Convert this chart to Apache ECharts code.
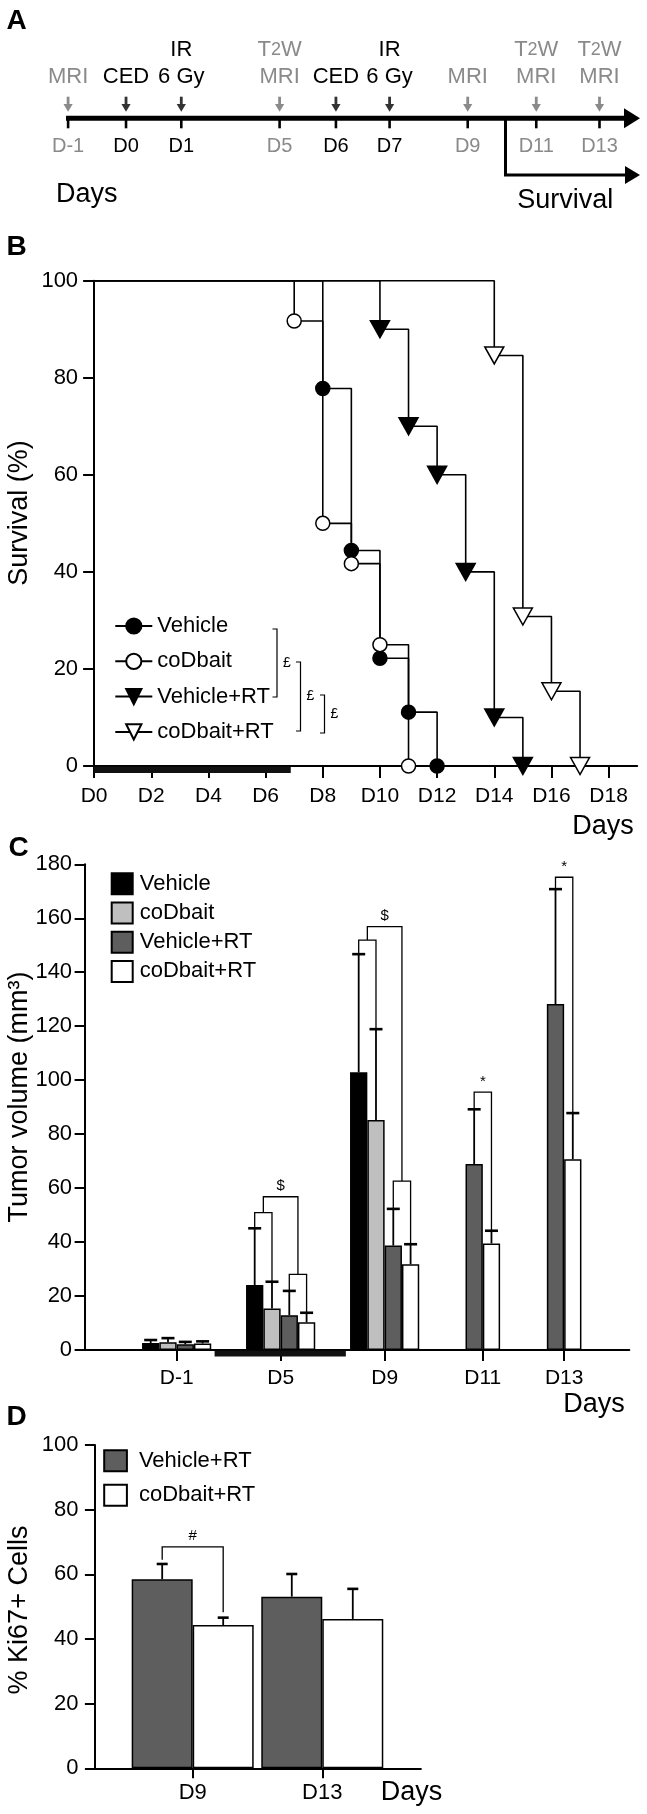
<!DOCTYPE html>
<html><head><meta charset="utf-8">
<script src="https://cdn.jsdelivr.net/npm/echarts@6/dist/echarts.min.js"></script>
<style>html,body{margin:0;padding:0;background:#fff}#c{width:647px;height:1814px}</style>
</head><body><div id="c"></div>
<script>
// ================= DATA =================
// Panel A: treatment schedule
const timelineDays = ['D-1', 'D0', 'D1', 'D5', 'D6', 'D7', 'D9', 'D11', 'D13'];
const timelineTop = ['', '', 'IR', 'T2W', '', 'IR', '', 'T2W', 'T2W'];
const timelineMid = ['MRI', 'CED', '6 Gy', 'MRI', 'CED', '6 Gy', 'MRI', 'MRI', 'MRI'];
const timelineImaging = [true, false, false, true, false, false, true, true, true];

// Panel B: Kaplan-Meier survival (%)
const survVehicleDays = [0, 8, 9, 10, 11, 12];
const survVehicle = [100, 77.8, 44.4, 22.2, 11.1, 0];
const survCoDbaitDays = [0, 7, 8, 9, 10, 11];
const survCoDbait = [100, 91.7, 50, 41.7, 25, 0];
const survVehicleRTDays = [0, 10, 11, 12, 13, 14, 15];
const survVehicleRT = [100, 90, 70, 60, 40, 10, 0];
const survCoDbaitRTDays = [0, 14, 15, 16, 17];
const survCoDbaitRT = [100, 84.6, 30.8, 15.4, 0];
const survivalTickDays = [0, 2, 4, 6, 8, 10, 12, 14, 16, 18];

// Panel C: tumor volume (mm3), mean and SD
const tumorCategories = ['D-1', 'D5', 'D9', 'D11', 'D13'];
const tumorVehicle = [2.6, 24.1, 102.9, null, null];
const tumorVehicleSD = [1.1, 21.0, 43.8, null, null];
const tumorCoDbait = [2.9, 15.4, 85.2, null, null];
const tumorCoDbaitSD = [1.5, 9.9, 33.7, null, null];
const tumorVehicleRT = [2.1, 12.9, 38.7, 68.9, 128.2];
const tumorVehicleRTSD = [0.9, 9.0, 13.6, 20.3, 42.6];
const tumorCoDbaitRT = [2.4, 10.3, 31.8, 39.5, 70.7];
const tumorCoDbaitRTSD = [0.8, 3.5, 7.4, 4.7, 17.1];
// significance: [category, bar A, bar B, leg A end, leg B end, bracket top, mark]
const tumorSig = [
  [1, 0, 1, 45.1, 25.3, 50.9, ''],
  [1, 2, 3, 21.9, 13.8, 28.0, ''],
  [1, 0.5, 2.5, 50.9, 28.0, 56.8, '$'],
  [2, 0, 1, 146.7, 118.9, 151.9, ''],
  [2, 2, 3, 52.3, 39.2, 62.6, ''],
  [2, 0.5, 2.5, 151.9, 62.6, 156.9, '$'],
  [3, 0, 1, 89.2, 44.2, 95.6, '*'],
  [4, 0, 1, 170.8, 87.8, 175.2, '*']
];

// Panel D: % Ki67+ cells
const ki67Categories = ['D9', 'D13'];
const ki67VehicleRT = [58.5, 53.1];
const ki67VehicleRTSD = [4.7, 7.0];
const ki67CoDbaitRT = [44.3, 46.2];
const ki67CoDbaitRTSD = [2.3, 9.3];
const ki67Sig = [[0, 0, 1, 64.5, 48.3, 68.5, '#']];

// ================= LAYOUT / STYLE =================
const FONT = "'Liberation Sans', Arial, Helvetica, sans-serif";
const GRAY = '#8a8a8a';
const aSlots = [0, 1.09, 2.13, 3.98, 5.04, 6.05, 7.52, 8.81, 10.0];   // schematic spacing
const cSlots = [0.885, 1.885, 2.885, 3.829, 4.611];
const dSlots = [1, 2];
const BAR_C = 17.3, CAP_C = 13, BAR_D = 61, CAP_D = 11;
const COLORS = { 'Vehicle': '#000000', 'coDbait': '#bfbfbf', 'Vehicle+RT': '#5e5e5e', 'coDbait+RT': '#ffffff' };

function nearestLabel(slots, labels) {
  return function (v) {
    let best = 0;
    for (let i = 1; i < slots.length; i++) if (Math.abs(slots[i] - v) < Math.abs(slots[best] - v)) best = i;
    return labels[best];
  };
}
const axisCommon = {
  axisLine: { show: true, onZero: false, lineStyle: { color: '#000', width: 2 } },
  splitLine: { show: false }
};

// ---------- Panel A custom renders ----------
function renderEvent(params, api) {
  const i = params.dataIndex;
  const p = api.coord([api.value(0), 0]);
  const x = p[0], y0 = p[1];
  const col = timelineImaging[i] ? GRAY : '#000';
  const acol = timelineImaging[i] ? GRAY : '#333';
  const ch = [
    { type: 'rect', shape: { x: x - 1.3, y: y0, width: 2.6, height: 10 }, style: { fill: '#000' } },
    { type: 'rect', shape: { x: x - 1.4, y: y0 - 21.6, width: 2.8, height: 8 }, style: { fill: acol } },
    { type: 'polygon', shape: { points: [[x - 4.6, y0 - 14.2], [x + 4.6, y0 - 14.2], [x, y0 - 6.6]] }, style: { fill: acol } },
    { type: 'text', style: { text: timelineDays[i], x: x, y: y0 + 28.4, align: 'center', verticalAlign: 'middle', fontSize: 20, fontFamily: FONT, fill: col } },
    { type: 'text', style: { text: timelineMid[i], x: x, y: y0 - 41.6, align: 'center', verticalAlign: 'middle', fontSize: 22, fontFamily: FONT, fill: col } }
  ];
  const t = timelineTop[i];
  if (t === 'T2W') {
    ch.push({ type: 'text', style: { text: '{a|T}{b|2}{a|W}', x: x, y: y0 - 68.3, align: 'center', verticalAlign: 'middle',
      rich: { a: { fontSize: 22, fontFamily: FONT, fill: col }, b: { fontSize: 18, fontFamily: FONT, fill: col } } } });
  } else if (t) {
    ch.push({ type: 'text', style: { text: t, x: x, y: y0 - 68.3, align: 'center', verticalAlign: 'middle', fontSize: 22, fontFamily: FONT, fill: col } });
  }
  return { type: 'group', children: ch };
}

// ---------- Panel B series ----------
function survSeries(name, days, vals, symbol, filled, rotate, size) {
  return {
    type: 'line', name: 'B:' + name, xAxisIndex: 1, yAxisIndex: 1, step: 'end',
    data: days.map((d, i) => i === 0 ? { value: [d, vals[i]], symbol: 'none' } : [d, vals[i]]),
    symbol: symbol, symbolSize: size, symbolRotate: rotate, showAllSymbol: true, clip: false,
    lineStyle: { color: '#000', width: 1.6 },
    itemStyle: { color: filled ? '#000' : '#fff', borderColor: '#000', borderWidth: 1.5 },
    z: 3
  };
}

function treatRender(height) {
  return function (params, api) {
    const a = api.coord([api.value(0), 0]);
    const b = api.coord([api.value(1), 0]);
    return { type: 'rect', shape: { x: a[0], y: a[1] + 0.5, width: b[0] - a[0], height: height }, style: { fill: '#111' } };
  };
}

// ---------- Panel C series ----------
const tumorSeriesDefs = [
  ['Vehicle', tumorVehicle, tumorVehicleSD],
  ['coDbait', tumorCoDbait, tumorCoDbaitSD],
  ['Vehicle+RT', tumorVehicleRT, tumorVehicleRTSD],
  ['coDbait+RT', tumorCoDbaitRT, tumorCoDbaitRTSD]
];
const fullGroup = tumorCategories.map((c, i) => tumorVehicle[i] != null);
const nBarsC = i => fullGroup[i] ? 4 : 2;

function barSeries(prefix, name, data, xAxisIndex, yAxisIndex, width) {
  return {
    type: 'bar', name: prefix + name, xAxisIndex, yAxisIndex, data,
    barWidth: width, barGap: '0%',
    itemStyle: { color: COLORS[name], borderColor: '#000', borderWidth: 1.5 }, z: 2
  };
}
const cBarSeries = [];
tumorSeriesDefs.forEach(([name, vals]) => {
  const early = [], late = [];
  vals.forEach((v, i) => { if (v == null) return; (fullGroup[i] ? early : late).push([cSlots[i], v]); });
  if (early.length) cBarSeries.push(barSeries('C:', name, early, 2, 2, BAR_C));
});
tumorSeriesDefs.forEach(([name, vals]) => {
  const late = [];
  vals.forEach((v, i) => { if (v != null && !fullGroup[i]) late.push([cSlots[i], v]); });
  if (late.length) cBarSeries.push(barSeries('C:', name, late, 3, 2, BAR_C));
});

const tumorErrData = [];
tumorCategories.forEach((c, i) => {
  let k = 0;
  tumorSeriesDefs.forEach(([name, vals, sds]) => {
    if (vals[i] == null) return;
    tumorErrData.push([cSlots[i], vals[i], sds[i], k, nBarsC(i)]);
    k++;
  });
});

function errorBarRender(barW, cap) {
  return function (params, api) {
    const xv = api.value(0), mean = api.value(1), sd = api.value(2), k = api.value(3), n = api.value(4);
    const base = api.coord([xv, mean]);
    const top = api.coord([xv, mean + sd]);
    const x = base[0] + (k - (n - 1) / 2) * barW;
    return { type: 'group', children: [
      { type: 'line', shape: { x1: x, y1: base[1], x2: x, y2: top[1] }, style: { stroke: '#000', lineWidth: 1.8 } },
      { type: 'line', shape: { x1: x - cap / 2, y1: top[1], x2: x + cap / 2, y2: top[1] }, style: { stroke: '#000', lineWidth: 2.6 } }
    ] };
  };
}
function bracketRender(barW, marks) {
  return function (params, api) {
    const xv = api.value(0), top = api.value(1), pa = api.value(2), pb = api.value(3),
      la = api.value(4), lb = api.value(5), n = api.value(6);
    const c = api.coord([xv, top]);
    const xa = c[0] + (pa - (n - 1) / 2) * barW, xb = c[0] + (pb - (n - 1) / 2) * barW;
    const yT = c[1], yA = api.coord([xv, la])[1], yB = api.coord([xv, lb])[1];
    const ch = [{ type: 'polyline', shape: { points: [[xa, yA], [xa, yT], [xb, yT], [xb, yB]] },
      style: { stroke: '#000', fill: 'none', lineWidth: 1.3 } }];
    const m = marks[params.dataIndex];
    if (m) ch.push({ type: 'text', style: { text: m, x: (xa + xb) / 2, y: yT - 3, align: 'center', verticalAlign: 'bottom',
      fontSize: 15, fontFamily: FONT, fill: '#000' } });
    return { type: 'group', children: ch };
  };
}
const tumorSigData = tumorSig.map(s => [cSlots[s[0]], s[5], s[1], s[2], s[3], s[4], nBarsC(s[0])]);
const tumorSigMarks = tumorSig.map(s => s[6]);

// ---------- Panel D ----------
const kiDefs = [['Vehicle+RT', ki67VehicleRT, ki67VehicleRTSD], ['coDbait+RT', ki67CoDbaitRT, ki67CoDbaitRTSD]];
const dBarSeries = kiDefs.map(([name, vals]) => barSeries('D:', name, vals.map((v, i) => [dSlots[i], v]), 4, 3, BAR_D));
const kiErrData = [];
ki67Categories.forEach((c, i) => kiDefs.forEach(([n, vals, sds], k) => kiErrData.push([dSlots[i], vals[i], sds[i], k, 2])));
const kiSigData = ki67Sig.map(s => [dSlots[s[0]], s[5], s[1], s[2], s[3], s[4], 2]);
const kiSigMarks = ki67Sig.map(s => s[6]);

// ---------- graphic decorations ----------
function txt(t, x, y, size, opts) {
  return Object.assign({ type: 'text', x: x, y: y, silent: true,
    style: Object.assign({ text: t, fontSize: size, fontFamily: FONT, fill: '#000', align: 'center', verticalAlign: 'middle' }, (opts && opts.style) || {}) },
    (opts && opts.el) || {});
}
function vtxt(t, x, y, size) { return txt(t, x, y, size, { el: { rotation: Math.PI / 2 } }); }
function bracketL(x, y1, y2) {
  return { type: 'polyline', silent: true, shape: { points: [[x - 4.5, y1], [x, y1], [x, y2], [x - 4.5, y2]] }, style: { stroke: '#000', fill: 'none', lineWidth: 1.2 } };
}
const graphics = [
  txt('A', 16.5, 21, 28, { style: { fontWeight: 'bold' } }),
  txt('B', 16.5, 247, 28, { style: { fontWeight: 'bold' } }),
  txt('C', 18.5, 848, 28, { style: { fontWeight: 'bold' } }),
  txt('D', 16.5, 1417, 28, { style: { fontWeight: 'bold' } }),
  // timeline
  { type: 'line', silent: true, shape: { x1: 66, y1: 118.3, x2: 628, y2: 118.3 }, style: { stroke: '#000', lineWidth: 5 } },
  { type: 'polygon', silent: true, shape: { points: [[624, 108.3], [640, 118.3], [624, 128.3]] }, style: { fill: '#000' } },
  { type: 'polyline', silent: true, shape: { points: [[505.5, 118.3], [505.5, 175], [628, 175]] }, style: { stroke: '#000', fill: 'none', lineWidth: 3 } },
  { type: 'polygon', silent: true, shape: { points: [[625, 166], [640, 175], [625, 184]] }, style: { fill: '#000' } },
  txt('Days', 86.7, 195, 27),
  txt('Survival', 565.3, 201, 27),
  // axis titles
  vtxt('Survival (%)', 20, 513, 27),
  vtxt('Tumor volume (mm³)', 20, 1097, 27),
  vtxt('% Ki67+ Cells', 20, 1610, 27),
  txt('Days', 603, 827, 27),
  txt('Days', 594, 1405, 27),
  txt('Days', 411.6, 1793, 27),
  // log-rank annotations in legend of B
  bracketL(277, 629, 697), txt('£', 283, 663, 14, { style: { align: 'left' } }),
  bracketL(300.5, 662, 731), txt('£', 306.5, 696.5, 14, { style: { align: 'left' } }),
  bracketL(324.5, 695, 733), txt('£', 330.5, 714, 14, { style: { align: 'left' } })
];

// ================= OPTION =================
const option = {
  animation: false,
  textStyle: { fontFamily: FONT },
  grid: [
    { left: 68.1, top: 18.3, width: 531.4, height: 100 },
    { left: 94.1, top: 280.7, width: 543.1, height: 485.3 },
    { left: 84.6, top: 864.3, width: 544.7, height: 485.7 },
    { left: 94.9, top: 1445, width: 326, height: 323.3 }
  ],
  xAxis: [
    { gridIndex: 0, type: 'value', min: 0, max: 10, show: false },
    Object.assign({ gridIndex: 1, type: 'value', min: 0, max: 19,
      axisTick: { show: true, length: 12, customValues: survivalTickDays, lineStyle: { color: '#000', width: 2 } },
      axisLabel: { customValues: survivalTickDays, formatter: v => 'D' + v, color: '#000', fontSize: 21, margin: 20, fontFamily: FONT } }, axisCommon),
    Object.assign({ gridIndex: 2, type: 'value', min: 0, max: 5.2375,
      axisTick: { show: true, length: 11, customValues: cSlots, lineStyle: { color: '#000', width: 2 } },
      axisLabel: { customValues: cSlots, formatter: nearestLabel(cSlots, tumorCategories), color: '#000', fontSize: 21, margin: 18, fontFamily: FONT } }, axisCommon),
    { gridIndex: 2, type: 'value', min: 0, max: 5.2375, show: false },
    Object.assign({ gridIndex: 3, type: 'value', min: 0.2454, max: 2.761,
      axisTick: { show: true, length: 10, customValues: dSlots, lineStyle: { color: '#000', width: 2 } },
      axisLabel: { customValues: dSlots, formatter: nearestLabel(dSlots, ki67Categories), color: '#000', fontSize: 22, margin: 14, fontFamily: FONT } }, axisCommon)
  ],
  yAxis: [
    { gridIndex: 0, type: 'value', min: 0, max: 100, show: false },
    Object.assign({ gridIndex: 1, type: 'value', min: 0, max: 100, interval: 20,
      axisTick: { show: true, length: 11, lineStyle: { color: '#000', width: 2 } },
      axisLabel: { color: '#000', fontSize: 22, margin: 16, fontFamily: FONT } }, axisCommon),
    Object.assign({ gridIndex: 2, type: 'value', min: 0, max: 180, interval: 20,
      axisTick: { show: true, length: 10, lineStyle: { color: '#000', width: 2 } },
      axisLabel: { color: '#000', fontSize: 22, margin: 12.5, fontFamily: FONT } }, axisCommon),
    Object.assign({ gridIndex: 3, type: 'value', min: 0, max: 100, interval: 20,
      axisTick: { show: true, length: 10, lineStyle: { color: '#000', width: 2 } },
      axisLabel: { color: '#000', fontSize: 22, margin: 16.5, fontFamily: FONT } }, axisCommon)
  ],
  legend: [
    { data: ['B:Vehicle', 'B:coDbait', 'B:Vehicle+RT', 'B:coDbait+RT'], formatter: n => n.slice(2),
      orient: 'vertical', left: 114.3, top: 615, padding: 0, itemWidth: 37, itemHeight: 19, itemGap: 13.3,
      selectedMode: false, textStyle: { fontSize: 22, lineHeight: 22, color: '#000', fontFamily: FONT } },
    { data: ['C:Vehicle', 'C:coDbait', 'C:Vehicle+RT', 'C:coDbait+RT'], formatter: n => n.slice(2), icon: 'rect',
      orient: 'vertical', left: 110.7, top: 872.3, padding: 0, itemWidth: 21, itemHeight: 21, itemGap: 6.2,
      selectedMode: false, textStyle: { fontSize: 22, lineHeight: 21, color: '#000', fontFamily: FONT, padding: [0, 0, 0, 2] } },
    { data: ['D:Vehicle+RT', 'D:coDbait+RT'], formatter: n => n.slice(2), icon: 'rect',
      orient: 'vertical', left: 103.2, top: 1449.3, padding: 0, itemWidth: 22.7, itemHeight: 21, itemGap: 11.4,
      selectedMode: false, textStyle: { fontSize: 22, lineHeight: 21, color: '#000', fontFamily: FONT, padding: [0, 0, 0, 7] } }
  ],
  graphic: graphics,
  series: [
    { type: 'custom', xAxisIndex: 0, yAxisIndex: 0, renderItem: renderEvent, data: timelineDays.map((d, i) => [aSlots[i], 0]), silent: true },
    survSeries('Vehicle', survVehicleDays, survVehicle, 'circle', true, 0, 14),
    survSeries('coDbait', survCoDbaitDays, survCoDbait, 'circle', false, 0, 14),
    survSeries('Vehicle+RT', survVehicleRTDays, survVehicleRT, 'triangle', true, 180, [19, 17]),
    survSeries('coDbait+RT', survCoDbaitRTDays, survCoDbaitRT, 'triangle', false, 180, [19, 17]),
    { type: 'custom', xAxisIndex: 1, yAxisIndex: 1, renderItem: treatRender(6.5), data: [[0, 6.88]], silent: true, z: 1 },
    ...cBarSeries,
    { type: 'custom', xAxisIndex: 2, yAxisIndex: 2, renderItem: errorBarRender(BAR_C, CAP_C), data: tumorErrData, encode: { x: 0, y: 1 }, silent: true, z: 3 },
    { type: 'custom', xAxisIndex: 2, yAxisIndex: 2, renderItem: bracketRender(BAR_C, tumorSigMarks), data: tumorSigData, encode: { x: 0, y: 1 }, silent: true, z: 3 },
    { type: 'custom', xAxisIndex: 2, yAxisIndex: 2, renderItem: treatRender(6), data: [[1.25, 2.512]], silent: true, z: 1 },
    ...dBarSeries,
    { type: 'custom', xAxisIndex: 4, yAxisIndex: 3, renderItem: errorBarRender(BAR_D, CAP_D), data: kiErrData, encode: { x: 0, y: 1 }, silent: true, z: 3 },
    { type: 'custom', xAxisIndex: 4, yAxisIndex: 3, renderItem: bracketRender(BAR_D, kiSigMarks), data: kiSigData, encode: { x: 0, y: 1 }, silent: true, z: 3 }
  ]
};
const chart = echarts.init(document.getElementById('c'), null, { renderer: 'canvas' });
chart.setOption(option);
</script></body></html>
